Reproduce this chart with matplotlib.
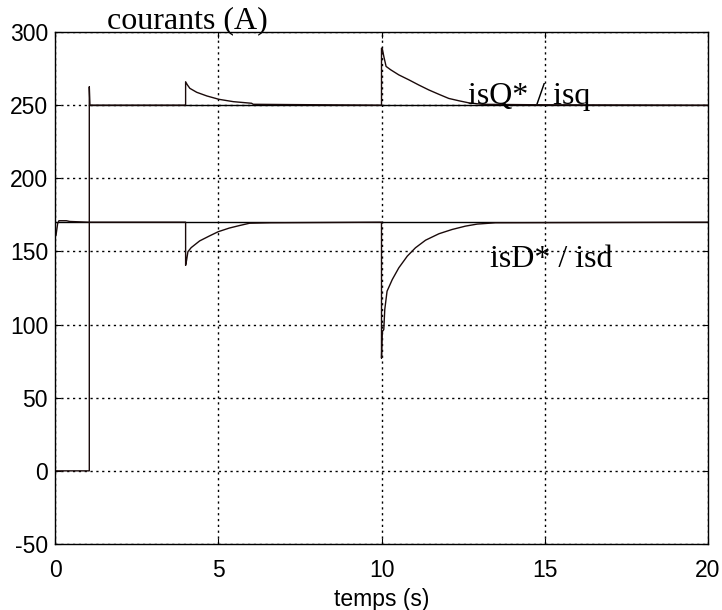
import matplotlib
matplotlib.use('Agg')
import matplotlib.pyplot as plt

# measured current isq (A) vs time (s)
t_q = [0, 1.05, 1.05, 1.07, 4, 4, 4.05, 4.13, 4.34, 4.65, 5.02, 5.46, 6.02, 6.07, 7.2,
       10, 10, 10.03, 10.07, 10.14, 10.28, 10.53, 10.84, 11.14, 11.45, 11.76,
       12.06, 12.37, 12.67, 13.08, 14.6, 20]
i_q = [0, 0, 262.6, 250, 250, 266, 264, 261.5, 258.8, 256.3, 254.0, 252.4, 251.3, 250.6, 250.4,
       250, 289, 288, 283.4, 276.5, 274.2, 270.7, 267.3, 263.8, 260.4, 257.4,
       254.6, 253, 251.6, 250.6, 250.3, 250]

# measured current isd (A) vs time (s)
t_d = [0, 0.03, 0.08, 0.12, 0.35, 0.45, 1, 4, 4, 4.03, 4.07, 4.17, 4.43, 4.74, 5.0,
       5.34, 5.65, 5.96, 6.6, 10, 10, 10.02, 10.07, 10.1, 10.17, 10.33, 10.53,
       10.79, 11.04, 11.35, 11.76, 12.16, 12.57, 12.93, 13.49, 20]
i_d = [160, 161, 169, 171, 171, 170.5, 170, 170, 140.5, 144, 149.8, 152.6, 157.2, 160.7, 163.5,
       166, 167.7, 169.3, 169.6, 170, 77, 95, 96.6, 110.3, 122.8, 130.8, 138.8,
       146.8, 152.5, 157.7, 162.1, 165, 167.3, 168.7, 169.6, 170]

# references isQ* and isD*
t_qref = [1.05, 20]
i_qref = [250, 250]
t_dref = [0, 20]
i_dref = [170, 170]

xticks = [0, 5, 10, 15, 20]
yticks = [-50, 0, 50, 100, 150, 200, 250, 300]

fig = plt.figure(figsize=(7.22, 6.1), dpi=100)
ax = fig.add_axes([0.0762, 0.1082, 0.9044, 0.8393])

ax.plot(t_qref, i_qref, color='black', lw=1.0)
ax.plot(t_dref, i_dref, color='black', lw=1.0)
ax.plot(t_q, i_q, color='#1a0a0a', lw=1.0)
ax.plot(t_d, i_d, color='#1a0a0a', lw=1.0)

ax.set_xlim(0, 20)
ax.set_ylim(-50, 300)
ax.set_xticks(xticks)
ax.set_yticks(yticks)
ax.set_yticklabels([str(v) for v in yticks])
ax.grid(True, color='black', linestyle=(0, (1.6, 2.6)), linewidth=1.0)
ax.tick_params(direction='in', length=4, top=True, right=True,
               labelsize=16.5, pad=5)
ax.tick_params(axis='x', pad=11)
for lab in ax.get_xticklabels() + ax.get_yticklabels():
    lab.set_fontfamily('Liberation Sans')
for s in ax.spines.values():
    s.set_linewidth(1.0)

ax.set_xlabel('temps (s)', fontsize=16.5, family='Liberation Sans', labelpad=4)

serif = 'Liberation Serif'
ax.text(1.59, 302.7, 'courants (A)', fontsize=23, family=serif,
        va='baseline', ha='left', clip_on=False)
ax.text(12.65, 250.5, 'isQ* / isq', fontsize=23, family=serif,
        va='baseline', ha='left')
ax.text(13.32, 139.4, 'isD* / isd', fontsize=23, family=serif,
        va='baseline', ha='left')

fig.savefig('out.png')
